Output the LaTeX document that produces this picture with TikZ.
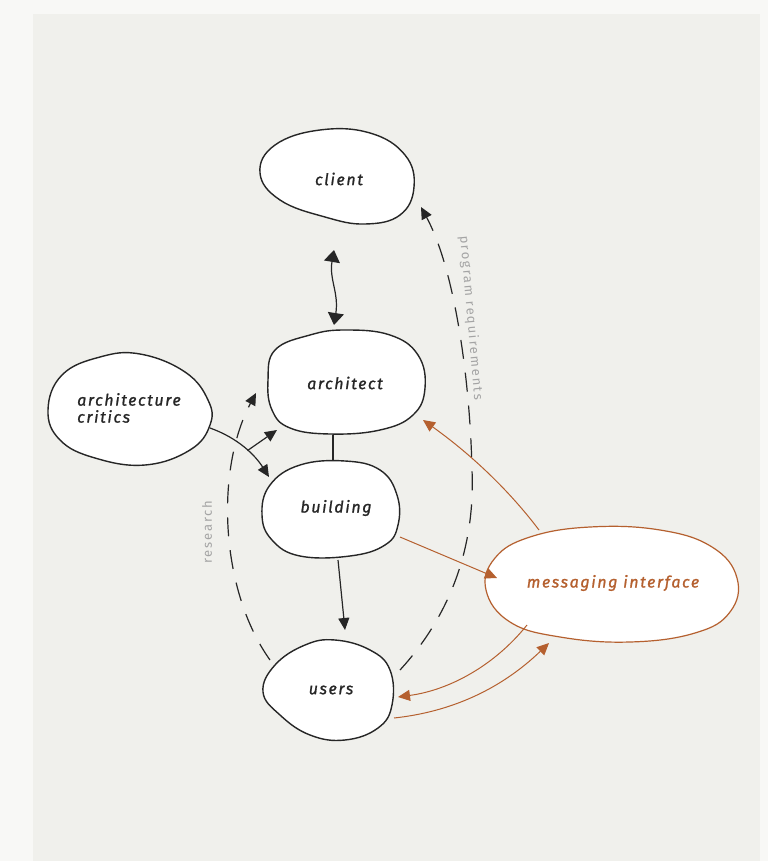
\documentclass[tikz,border=0pt]{standalone}
\usepackage{fontspec}
\setmainfont{Fira Sans}
\newfontfamily\handfont[LetterSpace=10,FakeBold=1.2]{Fira Sans}
\newfontfamily\lblfont[LetterSpace=14]{Fira Sans}
\usetikzlibrary{arrows.meta,calc,shapes.geometric}
\definecolor{bgc}{HTML}{F0F0EC}
\definecolor{marg}{HTML}{F8F8F6}
\definecolor{orng}{HTML}{B5602F}
\definecolor{lbl}{HTML}{A4A4A4}
\definecolor{ink}{HTML}{262626}
\begin{document}
\begin{tikzpicture}[x=1pt,y=-1pt,
  blob/.style={draw=ink, line width=1.4pt, fill=white},
  oblob/.style={draw=orng, line width=1.2pt, fill=white},
  anchorbox/.style={ellipse, inner sep=0pt, draw=none, text=ink,
     font=\handfont\itshape\fontsize{16}{19}\selectfont},
  conn/.style={line width=1.2pt, draw=ink},
  oconn/.style={line width=1pt, draw=orng},
  dconn/.style={line width=1.2pt, draw=ink, dash pattern=on 19pt off 14pt},
  tip/.style={-{Triangle[width=11pt,length=12pt]}},
  otip/.style={-{Triangle[width=11pt,length=12pt,fill=orng]}},
  lbltext/.style={text=lbl, font=\lblfont\fontsize{13}{15}\selectfont, inner sep=0pt}]
\useasboundingbox (0,0) rectangle (768,861);
\fill[marg] (0,0) rectangle (768,861);
\fill[bgc] (33,14) rectangle (760,861);

% blobs
\draw[blob] plot[smooth cycle, tension=0.7] coordinates {(260,173) (275,145) (320,130) (370,133) (405,155) (414,187) (400,215) (365,224) (325,217) (280,200)};
\draw[blob] plot[smooth cycle, tension=0.7] coordinates {(268,380) (275,350) (310,335) (345,330) (390,335) (418,355) (425,388) (413,415) (380,430) (330,434) (290,428) (272,410)};
\draw[blob] plot[smooth cycle, tension=0.7] coordinates {(48,410) (62,375) (100,357) (140,354) (185,372) (208,400) (210,425) (190,450) (145,465) (95,458) (60,440)};
\draw[blob] plot[smooth cycle, tension=0.7] coordinates {(262,515) (270,485) (300,465) (345,461) (380,470) (397,495) (398,525) (385,545) (350,556) (300,556) (272,540)};
\draw[blob] plot[smooth cycle, tension=0.7] coordinates {(263,692) (275,665) (305,645) (335,640) (370,650) (390,670) (392,705) (378,728) (345,740) (310,735) (280,715)};
\draw[oblob] plot[smooth cycle, tension=0.7] coordinates {(486,590) (495,558) (530,537) (590,527) (660,530) (712,547) (737,578) (730,612) (695,633) (630,642) (560,637) (510,622)};

% nodes (text + anchors)
\node[anchorbox, minimum width=156pt, minimum height=94pt] (client) at (339,179) {client};
\node[anchorbox, minimum width=158pt, minimum height=104pt] (architect) at (345,383) {architect};
\node[anchorbox, minimum width=163pt, minimum height=112pt, align=left] (critics) at (129,408) {architecture\\[-2pt]critics};
\node[anchorbox, minimum width=138pt, minimum height=96pt] (building) at (336,508) {building};
\node[anchorbox, minimum width=130pt, minimum height=100pt] (users) at (331,690) {users};
\node[anchorbox, minimum width=252pt, minimum height=115pt, text=orng] (msg) at (613,583) {messaging interface};

% black connectors
\draw[conn, {Triangle[width=16pt,length=12pt]}-{Triangle[width=16pt,length=12pt]}]
  ($(client)+(-5,71)$) .. controls ($(client)+(-10,100)$) and ($(architect)+(-6,-90)$) .. ($(architect)+(-11,-58)$);
\draw[conn] ($(architect)+(-12,52)$) -- ($(building)+(-3,-47)$);
\draw[conn, tip] ($(critics)+(81,20)$) .. controls ($(critics)+(109,30)$) and ($(building)+(-81,-53)$) .. coordinate[pos=0.55] (br) ($(building)+(-67,-31)$);
\draw[conn, tip] (br) -- ($(architect)+(-68,47)$);
\draw[conn, tip] ($(building)+(2,52)$) -- ($(users)+(14,-60)$);

% dashed connectors
\draw[dconn, tip] ($(users)+(-61,-30)$) .. controls (220,590) and (215,470) .. ($(architect)+(-89,10)$);
\draw[dconn, tip] ($(users)+(69,-20)$) .. controls (455,610) and (475,540) .. (472,470)
   .. controls (470,380) and (455,270) .. ($(client)+(82,28)$);

% orange connectors
\draw[oconn, otip] ($(building)+(64,29)$) -- ($(msg)+(-116,-5)$);
\draw[oconn, otip] ($(msg)+(-74,-53)$) .. controls (505,485) and (465,450) .. ($(architect)+(78,37)$);
\draw[oconn, otip] ($(msg)+(-86,42)$) .. controls (495,665) and (450,690) .. ($(users)+(67,7)$);
\draw[oconn, otip] ($(users)+(63,28)$) .. controls (450,712) and (500,690) .. ($(msg)+(-64,60)$);

% labels
\node[lbltext, rotate=90] (lres) at (207,532) {research};
\node[lbltext, rotate=-85] (lprog) at (471,318) {program requirements};
\end{tikzpicture}
\end{document}
